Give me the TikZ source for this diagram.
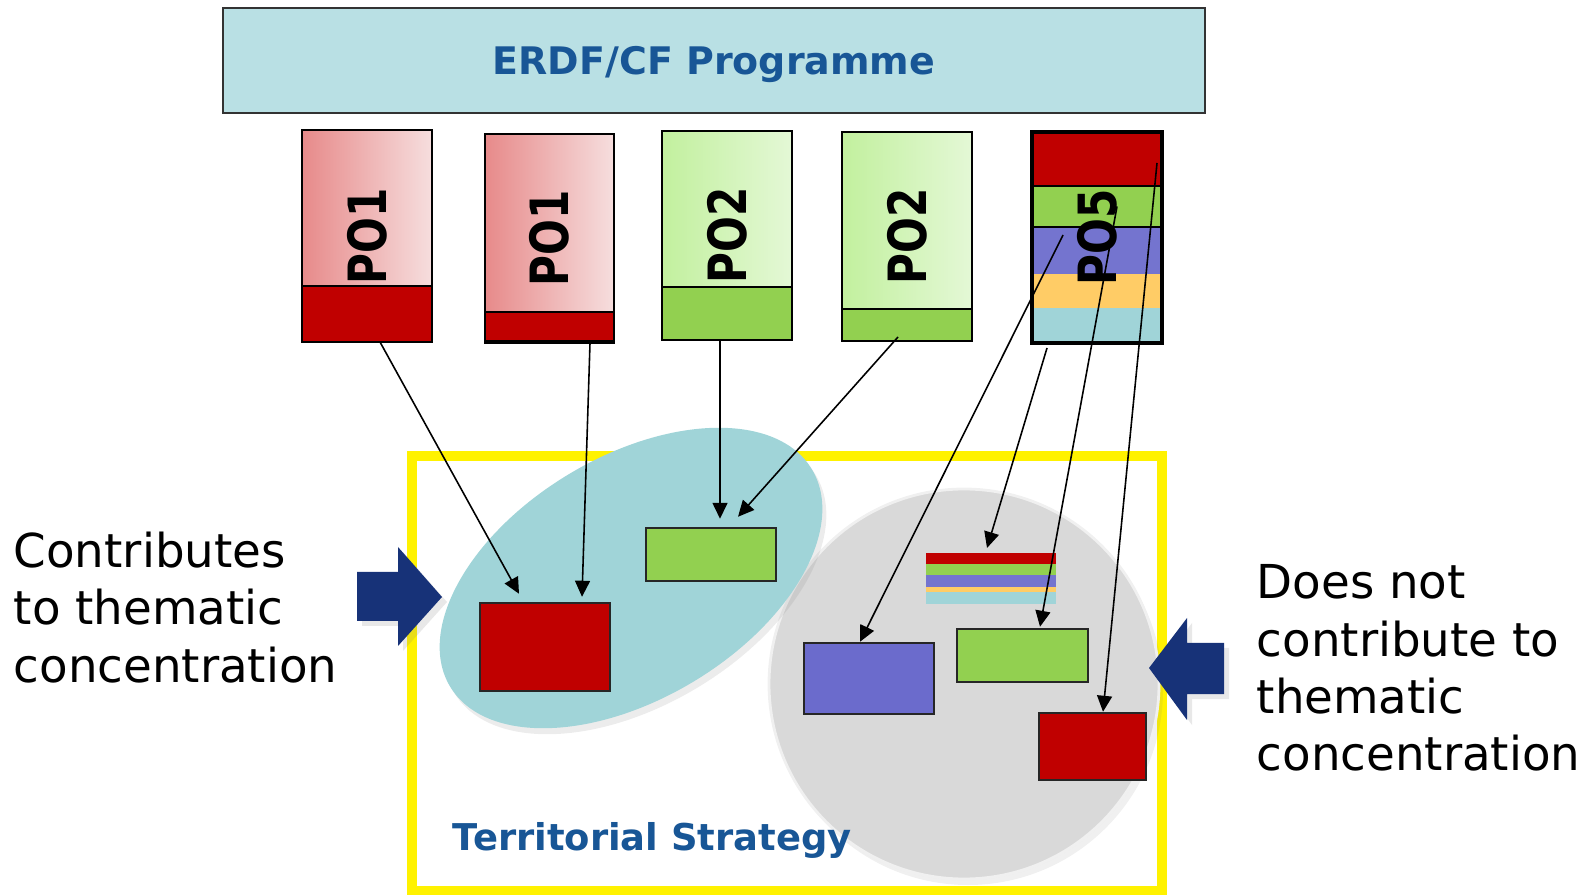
\documentclass[tikz,border=0pt]{standalone}
\usepackage{fontspec}
\setmainfont{DejaVu Sans}
\usepackage{tikz}
\usetikzlibrary{arrows.meta,positioning,shadows}
\definecolor{progfill}{RGB}{185,224,228}
\definecolor{progblue}{RGB}{24,86,150}
\definecolor{pored}{RGB}{192,0,0}
\definecolor{porose}{RGB}{231,138,138}
\definecolor{popink}{RGB}{246,222,222}
\definecolor{pogreen}{RGB}{146,208,80}
\definecolor{polime}{RGB}{194,240,158}
\definecolor{pomint}{RGB}{228,248,214}
\definecolor{popurple}{RGB}{116,116,207}
\definecolor{boxpurple}{RGB}{107,107,204}
\definecolor{poorange}{RGB}{255,204,102}
\definecolor{poteal}{RGB}{160,212,216}
\definecolor{stratgrey}{RGB}{217,217,217}
\definecolor{navy}{RGB}{23,50,120}
\tikzstyle{arrow} = [line width=0.45pt,-{Triangle[length=1.6mm,width=1.5mm]}]
\tikzstyle{pobox} = [rectangle, draw=black, line width=0.5pt, minimum width=13mm, inner sep=0pt, outer sep=0pt, font=\fontsize{12}{14}\selectfont\bfseries]
\tikzstyle{pobar} = [rectangle, draw=black, line width=0.6pt, minimum width=13mm, inner sep=0pt, outer sep=0pt, anchor=south]
\tikzstyle{stripe} = [rectangle, inner sep=0pt, outer sep=0pt, minimum width=13mm]
\tikzstyle{target} = [rectangle, draw=black!85, line width=0.7pt, inner sep=0pt, minimum width=13mm]
\tikzstyle{blockarrow} = [fill=navy, drop shadow={opacity=0.18, shadow xshift=0.5mm, shadow yshift=-0.5mm}]
\newcommand{\polabel}[1]{\rotatebox{90}{\scalebox{1}[1.25]{#1}}}

\begin{document}
\begin{tikzpicture}[x=0.1mm, y=-0.1mm]
\useasboundingbox (0,0) rectangle (1593,895);

% Territorial strategy
\node (frame) [draw=yellow, line width=1mm, minimum width=75mm, minimum height=43.5mm, inner sep=0pt] at (787,673.5) {};
\fill[stratgrey, draw=black!6, line width=0.8pt, drop shadow={opacity=0.12, shadow xshift=0.4mm, shadow yshift=-0.6mm}] (964,684) circle [radius=195];
\fill[poteal, drop shadow={opacity=0.15, shadow xshift=0.4mm, shadow yshift=-0.6mm}, rotate around={31:(631,578)}] (631,578) ellipse [x radius=211, y radius=121];
\node (strat) [anchor=base west, text=progblue, font=\fontsize{10.5}{12}\selectfont\bfseries, inner sep=0pt] at (452,850) {Territorial Strategy};

% Allocations
\node (red1) [target, fill=pored, minimum height=8.8mm] at (545,647) {};
\node (green1) [target, fill=pogreen, minimum height=5.3mm] at (711,554.5) {};
\node (purple) [target, fill=boxpurple, minimum height=7.1mm] at (869,678.5) {};
\node (green2) [target, fill=pogreen, minimum width=13.1mm, minimum height=5.3mm] at (1022.5,655.5) {};
\node (red2) [target, fill=pored, minimum width=10.7mm, minimum height=6.7mm] at (1092.5,746.5) {};
\node (mixred) [stripe, fill=pored, minimum height=1.1mm] at (990.5,558.5) {};
\node (mixgreen) [stripe, fill=pogreen, minimum height=1.1mm, below=0pt of mixred] {};
\node (mixpurple) [stripe, fill=popurple, minimum height=1.2mm, below=0pt of mixgreen] {};
\node (mixorange) [stripe, fill=poorange, minimum height=0.5mm, below=0pt of mixpurple] {};
\node (mixteal) [stripe, fill=poteal, minimum height=1.2mm, below=0pt of mixorange] {};

% Side notes
\fill[blockarrow] (357,572) -- (398,572) -- (398,547) -- (442,597) -- (398,646) -- (398,621) -- (357,621) -- cycle;
\fill[blockarrow] (1224,643) -- (1187,643) -- (1187,618) -- (1149,668) -- (1187,720) -- (1187,694) -- (1224,694) -- cycle;
\node (contrib) [anchor=west, align=left, inner sep=0pt, font=\fontsize{13.3}{16.3}\selectfont] at (13,607.5) {Contributes\\to thematic\\concentration};
\node (nocontrib) [anchor=west, align=left, inner sep=0pt, font=\fontsize{13.3}{16.3}\selectfont] at (1256,668) {Does not\\contribute to\\thematic\\concentration};

% Programme and policy objectives
\node (prog) [rectangle, draw=black!80, line width=0.6pt, fill=progfill, minimum width=98.2mm, minimum height=10.5mm, text=progblue, text depth=0pt, font=\fontsize{10.8}{12}\selectfont\bfseries] at (714,60.5) {ERDF/CF Programme};
\node (po1a) [pobox, left color=porose, right color=popink, minimum height=21.2mm] at (367,236) {\polabel{PO1}};
\node (bar1a) [pobar, fill=pored, minimum height=5.6mm] at (po1a.south) {};
\node (po1b) [pobox, left color=porose, right color=popink, minimum width=12.9mm, minimum height=20.9mm] at (549.5,238.5) {\polabel{PO1}};
\node (bar1b) [pobar, fill=pored, minimum width=12.9mm, minimum height=2.9mm] at ([yshift=0.2mm]po1b.south) {};
\node (po2a) [pobox, left color=polime, right color=pomint, minimum height=20.9mm] at (727,235.5) {\polabel{PO2}};
\node (bar2a) [pobar, fill=pogreen, minimum height=5.3mm] at (po2a.south) {};
\node (po2b) [pobox, left color=polime, right color=pomint, minimum height=20.9mm] at (907,236.5) {\polabel{PO2}};
\node (bar2b) [pobar, fill=pogreen, minimum height=3.2mm] at (po2b.south) {};
\node (po5red) [stripe, fill=pored, minimum height=5.2mm] at (1097,160) {};
\node (po5green) [stripe, fill=pogreen, minimum height=4.1mm, below=0pt of po5red] {};
\node (po5purple) [stripe, fill=popurple, minimum height=4.7mm, below=0pt of po5green] {};
\node (po5orange) [stripe, fill=poorange, minimum height=3.4mm, below=0pt of po5purple] {};
\node (po5teal) [stripe, fill=poteal, minimum height=3.3mm, below=0pt of po5orange] {};
\draw[line width=0.6pt] (po5red.south west) -- (po5red.south east);
\draw[line width=0.6pt] (po5green.south west) -- (po5green.south east);
\node (po5) [pobox, line width=1.2pt, minimum height=21.1mm] at (1097,237.5) {\polabel{PO5}};

% Connectors
\draw[arrow] ([xshift=1.3mm]po1a.south) -- ([xshift=-2.6mm,yshift=0.8mm]red1.north);
\draw[arrow] ([xshift=4.05mm]po1b.south) -- ([xshift=3.7mm,yshift=0.5mm]red1.north);
\draw[arrow] ([xshift=-0.7mm]po2a.south) -- ([xshift=0.9mm,yshift=0.8mm]green1.north);
\draw[arrow] ([xshift=-0.9mm,yshift=0.4mm]bar2b.south) -- ([xshift=2.7mm,yshift=1mm]green1.north);
\draw[arrow] ([xshift=-3.4mm,yshift=1.55mm]po5purple.center) -- ([xshift=-0.9mm]purple.north);
\draw[arrow] ([xshift=-5mm,yshift=-0.5mm]po5.south) -- ([xshift=-0.35mm,yshift=0.5mm]mixred.north);
\draw[arrow] ([xshift=2mm]po5green.center) -- ([xshift=1.75mm,yshift=0.1mm]green2.north);
\draw[arrow] ([xshift=6mm,yshift=-0.3mm]po5red.center) -- ([xshift=1.05mm]red2.north);
\end{tikzpicture}
\end{document}
